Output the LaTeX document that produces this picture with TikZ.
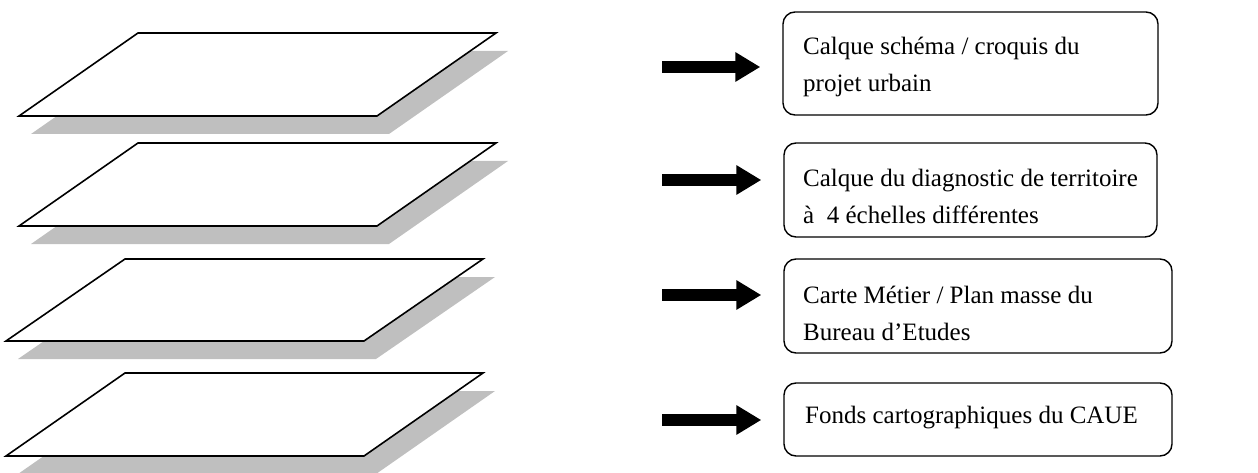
\documentclass[tikz,border=0pt]{standalone}
\usepackage{fontspec}
\setmainfont{Liberation Serif}
\usetikzlibrary{arrows.meta}
\begin{document}
\begin{tikzpicture}[x=1pt,y=-1pt,
  layer/.style={draw=black,line width=1.6pt,line join=miter,fill=white},
  layershadow/.style={fill=black!25,draw=none},
  blockarrow/.style={line width=12pt,-{Triangle[length=25pt,width=28pt]},shorten >=22pt},
  textbox/.style={draw=black,line width=1.4pt,rounded corners=12pt,inner sep=0pt},
  label/.style={anchor=base west,inner sep=0pt,font=\fontsize{25}{37}\selectfont}]
\useasboundingbox (0,0) rectangle (1258,473);
% layers
\foreach \dx/\t/\h in {0/33/83, 0/143/83, -13/259/82, -13/373/83}{
  \fill[layershadow] (138+\dx+12,\t+18) -- (496+\dx+12,\t+18) -- (377+\dx+12,\t+\h+18) -- (19+\dx+12,\t+\h+18) -- cycle;
  \draw[layer] (138+\dx,\t) -- (496+\dx,\t) -- (377+\dx,\t+\h) -- (19+\dx,\t+\h) -- cycle;
}
% boxes
\node[textbox,minimum width=375pt,minimum height=103pt] (b1) at (970.5,63.5) {};
\node[textbox,minimum width=373pt,minimum height=94pt] (b2) at (970.5,190) {};
\node[textbox,minimum width=388pt,minimum height=94pt] (b3) at (978,306) {};
\node[textbox,minimum width=388pt,minimum height=73pt] (b4) at (978,419.5) {};
% texts
\node[label] (t1a) at (803,55) {Calque schéma / croquis du};
\node[label] (t1b) at (803,92) {projet urbain};
\node[label] (t2a) at (803,187) {Calque du diagnostic de territoire};
\node[label] (t2b) at (803,223) {à\ \ 4 échelles différentes};
\node[label] (t3a) at (803,303) {Carte Métier / Plan masse du};
\node[label] (t3b) at (803,340) {Bureau d’Etudes};
\node[label] (t4a) at (805,423) {Fonds cartographiques du CAUE};
% arrows
\coordinate (a1) at (662,67);
\coordinate (a2) at (662,180);
\coordinate (a3) at (662,295);
\coordinate (a4) at (662,420);
\draw[blockarrow] (a1) -- (b1.west |- a1);
\draw[blockarrow] (a2) -- (b2.west |- a2);
\draw[blockarrow] (a3) -- (b3.west |- a3);
\draw[blockarrow] (a4) -- (b4.west |- a4);
\end{tikzpicture}
\end{document}
